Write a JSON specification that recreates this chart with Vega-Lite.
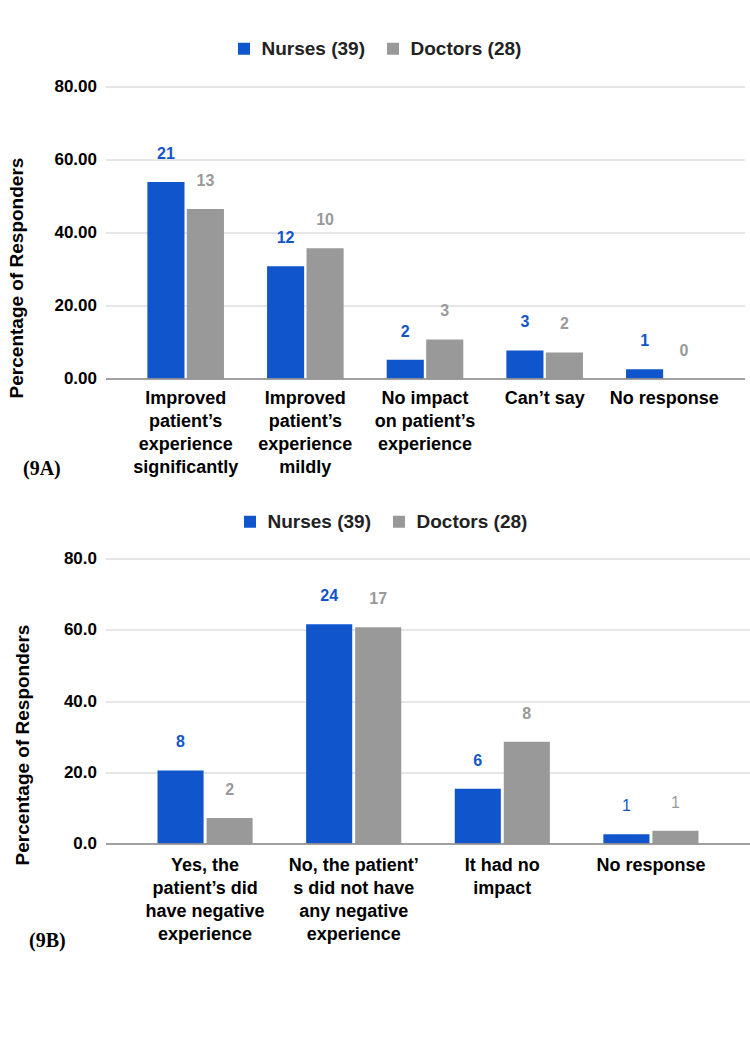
{
  "$schema": "https://vega.github.io/schema/vega-lite/v6.json",
  "background": "white",
  "padding": {"left": 7.5, "top": 38.5, "right": 5, "bottom": 5},
  "datasets": {
    "a": [
      {"category": "Improved\npatient’s\nexperience\nsignificantly", "group": "Nurses (39)", "pct": 53.846, "count": 21},
      {"category": "Improved\npatient’s\nexperience\nsignificantly", "group": "Doctors (28)", "pct": 46.429, "count": 13},
      {"category": "Improved\npatient’s\nexperience\nmildly", "group": "Nurses (39)", "pct": 30.769, "count": 12},
      {"category": "Improved\npatient’s\nexperience\nmildly", "group": "Doctors (28)", "pct": 35.714, "count": 10},
      {"category": "No impact\non patient’s\nexperience", "group": "Nurses (39)", "pct": 5.128, "count": 2},
      {"category": "No impact\non patient’s\nexperience", "group": "Doctors (28)", "pct": 10.714, "count": 3},
      {"category": "Can’t say", "group": "Nurses (39)", "pct": 7.692, "count": 3},
      {"category": "Can’t say", "group": "Doctors (28)", "pct": 7.143, "count": 2},
      {"category": "No response", "group": "Nurses (39)", "pct": 2.564, "count": 1},
      {"category": "No response", "group": "Doctors (28)", "pct": 0, "count": 0}
    ],
    "b": [
      {"category": "Yes, the\npatient’s did\nhave negative\nexperience", "group": "Nurses (39)", "pct": 20.513, "count": 8},
      {"category": "Yes, the\npatient’s did\nhave negative\nexperience", "group": "Doctors (28)", "pct": 7.143, "count": 2},
      {"category": "No, the patient’\ns did not have\nany negative\nexperience", "group": "Nurses (39)", "pct": 61.538, "count": 24},
      {"category": "No, the patient’\ns did not have\nany negative\nexperience", "group": "Doctors (28)", "pct": 60.714, "count": 17},
      {"category": "It had no\nimpact", "group": "Nurses (39)", "pct": 15.385, "count": 6},
      {"category": "It had no\nimpact", "group": "Doctors (28)", "pct": 28.571, "count": 8},
      {"category": "No response", "group": "Nurses (39)", "pct": 2.564, "count": 1},
      {"category": "No response", "group": "Doctors (28)", "pct": 3.571, "count": 1}
    ]
  },
  "config": {
    "view": {"stroke": null},
    "font": "Liberation Sans",
    "axis": {"labelColor": "#000000", "titleColor": "#000000"}
  },
  "align": "none",
  "spacing": 33,
  "resolve": {"scale": {"color": "independent", "x": "independent", "y": "independent", "xOffset": "independent"}, "legend": {"color": "independent"}},
  "vconcat": [
    {
      "width": 639,
      "height": 292,
      "data": {"name": "a"},
      "encoding": {
        "x": {
          "field": "category", "type": "nominal", "sort": null,
          "scale": {"paddingInner": 0.36, "paddingOuter": 0.35},
          "axis": {
            "title": "(9A)", "titleFont": "Liberation Serif", "titleFontSize": 20, "titleFontWeight": "bold",
            "titleX": -83, "titleY": 90, "titleAlign": "left", "titleBaseline": "middle", "titleAngle": 0,
            "labelExpr": "split(datum.label, '\\n')", "labelAngle": 0, "labelFontSize": 18, "labelFontWeight": "bold",
            "labelLineHeight": 23, "labelPadding": 11, "labelBaseline": "top", "labelLimit": 0,
            "ticks": false, "domainColor": "#888888", "domainWidth": 1.5, "grid": false, "zindex": 1
          }
        },
        "xOffset": {"field": "group", "type": "nominal", "sort": ["Nurses (39)", "Doctors (28)"], "scale": {"paddingInner": 0.06}},
        "y": {
          "field": "pct", "type": "quantitative",
          "scale": {"domain": [0, 80]},
          "axis": {
            "values": [0, 20, 40, 60, 80], "format": ".2f",
            "title": "Percentage of Responders", "titleX": -89, "titleY": 191, "titleAngle": 270,
            "titleAlign": "center", "titleBaseline": "middle", "titleFontSize": 19, "titleFontWeight": "bold",
            "labelFontSize": 17, "labelFontWeight": "bold", "labelPadding": 9,
            "ticks": false, "domain": false, "grid": true, "gridColor": "#cccccc"
          }
        },
        "color": {
          "field": "group", "type": "nominal", "sort": ["Nurses (39)", "Doctors (28)"],
          "scale": {"domain": ["Nurses (39)", "Doctors (28)"], "range": ["#1155cc", "#999999"]},
          "legend": {
            "orient": "none", "legendX": 129, "legendY": -47.5, "direction": "horizontal", "title": null,
            "symbolType": "square", "symbolSize": 144, "symbolStrokeWidth": 0,
            "labelFontSize": 19, "labelFontWeight": "bold", "labelColor": "#222222",
            "labelOffset": 8, "columnPadding": 18, "padding": 0
          }
        }
      },
      "layer": [
        {"mark": {"type": "bar"}},
        {
          "mark": {"type": "text", "dy": -28, "fontSize": 16, "fontWeight": "bold", "baseline": "middle"},
          "encoding": {"text": {"field": "count", "type": "quantitative"}}
        }
      ]
    },
    {
      "width": 645,
      "height": 285,
      "data": {"name": "b"},
      "encoding": {
        "x": {
          "field": "category", "type": "nominal", "sort": null,
          "scale": {"paddingInner": 0.36, "paddingOuter": 0.35},
          "axis": {
            "title": "(9B)", "titleFont": "Liberation Serif", "titleFontSize": 20, "titleFontWeight": "bold",
            "titleX": -77, "titleY": 97, "titleAlign": "left", "titleBaseline": "middle", "titleAngle": 0,
            "labelExpr": "split(datum.label, '\\n')", "labelAngle": 0, "labelFontSize": 18, "labelFontWeight": "bold",
            "labelLineHeight": 23, "labelPadding": 13, "labelBaseline": "top", "labelLimit": 0,
            "ticks": false, "domainColor": "#888888", "domainWidth": 1.5, "grid": false, "zindex": 1
          }
        },
        "xOffset": {"field": "group", "type": "nominal", "sort": ["Nurses (39)", "Doctors (28)"], "scale": {"paddingInner": 0.06}},
        "y": {
          "field": "pct", "type": "quantitative",
          "scale": {"domain": [0, 80]},
          "axis": {
            "values": [0, 20, 40, 60, 80], "format": ".1f",
            "title": "Percentage of Responders", "titleX": -83, "titleY": 186, "titleAngle": 270,
            "titleAlign": "center", "titleBaseline": "middle", "titleFontSize": 19, "titleFontWeight": "bold",
            "labelFontSize": 17, "labelFontWeight": "bold", "labelPadding": 9,
            "ticks": false, "domain": false, "grid": true, "gridColor": "#cccccc"
          }
        },
        "color": {
          "field": "group", "type": "nominal", "sort": ["Nurses (39)", "Doctors (28)"],
          "scale": {"domain": ["Nurses (39)", "Doctors (28)"], "range": ["#1155cc", "#999999"]},
          "legend": {
            "orient": "none", "legendX": 135, "legendY": -46.5, "direction": "horizontal", "title": null,
            "symbolType": "square", "symbolSize": 144, "symbolStrokeWidth": 0,
            "labelFontSize": 19, "labelFontWeight": "bold", "labelColor": "#222222",
            "labelOffset": 8, "columnPadding": 18, "padding": 0
          }
        }
      },
      "layer": [
        {"mark": {"type": "bar"}},
        {
          "transform": [{"filter": "datum.count != 1"}],
          "mark": {"type": "text", "dy": -28, "fontSize": 16, "fontWeight": "bold", "baseline": "middle"},
          "encoding": {"text": {"field": "count", "type": "quantitative"}}
        },
        {
          "transform": [{"filter": "datum.count == 1"}],
          "mark": {"type": "text", "dy": -28, "fontSize": 16, "fontWeight": "normal", "baseline": "middle"},
          "encoding": {"text": {"field": "count", "type": "quantitative"}}
        }
      ]
    }
  ]
}
